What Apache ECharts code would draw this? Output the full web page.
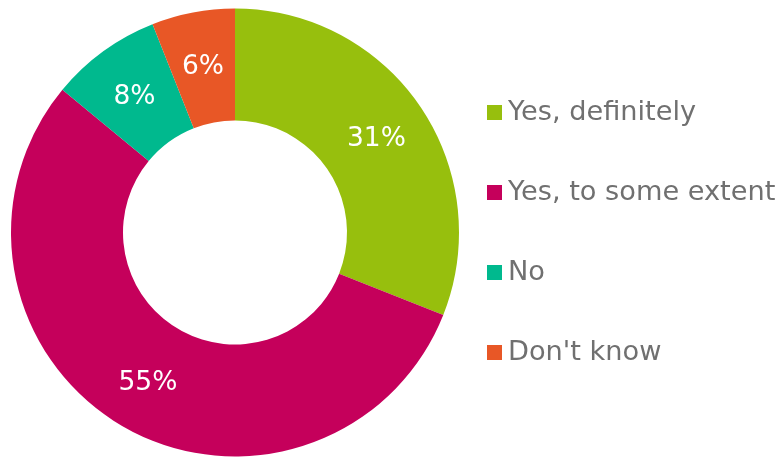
<!DOCTYPE html>
<html>
<head>
<meta charset="utf-8">
<script src="https://cdn.jsdelivr.net/npm/echarts@6/dist/echarts.min.js"></script>
<style>
  html, body { margin: 0; padding: 0; background: #ffffff; }
  #chart { width: 779px; height: 457px; }
</style>
</head>
<body>
<div id="chart"></div>
<script>
// Survey answers, share of respondents (%)
const categories = ['Yes, definitely', 'Yes, to some extent', 'No', "Don't know"];
const shares = [31, 55, 8, 6];
const sliceColors = ['#97bf0d', '#c5005b', '#00b98e', '#e85726'];

const chart = echarts.init(document.getElementById('chart'), null, { renderer: 'canvas' });

chart.setOption({
  animation: false,
  backgroundColor: '#ffffff',
  color: sliceColors,
  legend: {
    orient: 'vertical',
    left: 482,
    top: 94,
    padding: 5,
    itemWidth: 15,
    itemHeight: 15,
    itemGap: 53,
    icon: 'rect',
    textStyle: {
      fontFamily: 'DejaVu Sans',
      fontSize: 27.2,
      color: '#707070',
      padding: [0, 0, 0, 1]
    },
    data: categories
  },
  series: [{
    type: 'pie',
    center: [235, 232.5],
    radius: [112, 224],
    startAngle: 90,
    clockwise: true,
    avoidLabelOverlap: false,
    label: {
      show: true,
      position: 'inside',
      formatter: '{c}%',
      color: '#ffffff',
      fontFamily: 'DejaVu Sans',
      fontSize: 26.5,
      // digits sit slightly high against the line box; nudge them to the ring's middle
      offset: [0, 3]
    },
    labelLine: { show: false },
    itemStyle: { borderWidth: 0 },
    emphasis: { disabled: true },
    data: categories.map((name, i) => ({ name, value: shares[i] }))
  }]
});
</script>
</body>
</html>
